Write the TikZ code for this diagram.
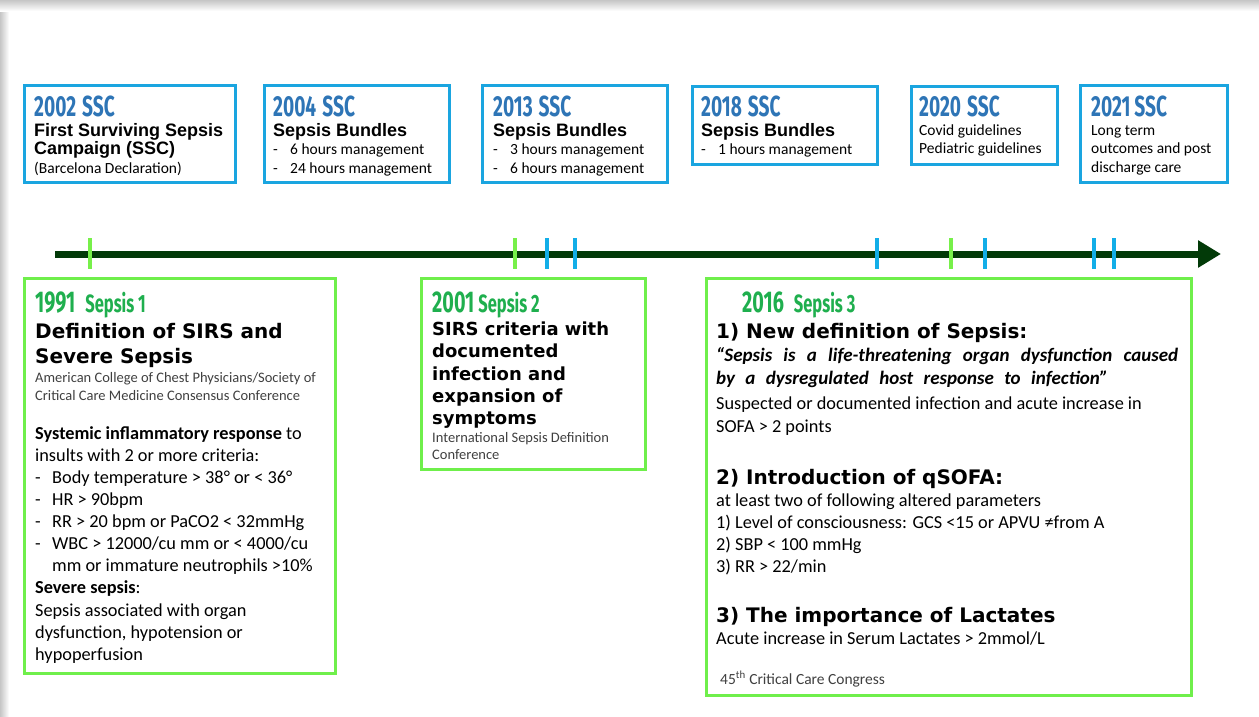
\documentclass[tikz,border=0pt]{standalone}
\usepackage{fontspec}
\setmainfont{Carlito}
\newfontfamily\armfont{Liberation Sans}
\newfontfamily\heavyfont{DejaVu Sans}
\newfontfamily\condfont[FakeStretch=0.66]{Fira Sans}
\usetikzlibrary{arrows.meta}

\definecolor{sscblue}{HTML}{1AA5E0}
\definecolor{sscyearblue}{HTML}{2E75B6}
\definecolor{sepsisgreen}{HTML}{6FEF4B}
\definecolor{sepsisyear}{HTML}{1FAF4E}
\definecolor{timelinegreen}{HTML}{023A08}
\definecolor{tickgreen}{HTML}{77F04A}
\definecolor{tickblue}{HTML}{12AEE8}

\newcommand\sscyear{\color{sscyearblue}\condfont\bfseries\fontsize{29}{29}\selectfont}
\newcommand\sschead{\armfont\bfseries\fontsize{18}{18}\selectfont}
\newcommand\ssctext{\fontsize{15.5}{15.5}\selectfont}
\newcommand\sepyear{\color{sepsisyear}\condfont\bfseries\fontsize{30}{30}\selectfont}
\newcommand\seplabel{\color{sepsisyear}\condfont\fontsize{25}{25}\selectfont}
\newcommand\bighead{\heavyfont\bfseries\fontsize{20}{20}\selectfont}
\newcommand\midhead{\heavyfont\bfseries\fontsize{18}{18}\selectfont}
\newcommand\smalltext{\color{black!75}\fontsize{14.5}{14.5}\selectfont}
\newcommand\bodyA{\fontsize{18.3}{18.3}\selectfont}
\newcommand\bodyC{\fontsize{18.3}{18.3}\selectfont}
\newcommand\quotetext{\bfseries\itshape\fontsize{19}{19}\selectfont}
\newcommand\dashitem[1]{\makebox[17pt][l]{-}#1}

\tikzset{
    sscbox/.style={draw=sscblue, line width=3pt, inner sep=0pt, fill=white},
    sepsisbox/.style={draw=sepsisgreen, line width=3pt, inner sep=0pt, fill=white},
    txt/.style={anchor=base west, inner sep=0pt},
}

\begin{document}
\begin{tikzpicture}[x=1pt, y=-1pt]
    \useasboundingbox (0,0) rectangle (1259,716);
    \fill[white] (0,0) rectangle (1259,716);
    \shade[left color=gray!45, right color=white] (0,0) rectangle (9,716);
    \shade[top color=gray!45, bottom color=white] (0,0) rectangle (1259,11);

    % SSC boxes
    \node[sscbox, minimum width=211, minimum height=97] (b2002) at (130,134) {};
    \node[txt] (y2002) at (34,116) {\sscyear 2002\hspace{6pt}SSC};
    \node[txt] (h2002a) at (34,136) {\sschead First Surviving Sepsis};
    \node[txt] (h2002b) at (34,154) {\sschead Campaign (SSC)};
    \node[txt] (s2002) at (34,173) {\ssctext (Barcelona Declaration)};

    \node[sscbox, minimum width=185, minimum height=97] (b2004) at (357,134) {};
    \node[txt] (y2004) at (273,116) {\sscyear 2004\hspace{6pt}SSC};
    \node[txt] (h2004) at (273,136) {\sschead Sepsis Bundles};
    \node[txt] (s2004a) at (273,154) {\ssctext\dashitem{6 hours management}};
    \node[txt] (s2004b) at (273,173) {\ssctext\dashitem{24 hours management}};

    \node[sscbox, minimum width=185, minimum height=97] (b2013) at (575,134) {};
    \node[txt] (y2013) at (493,116) {\sscyear 2013\hspace{6pt}SSC};
    \node[txt] (h2013) at (493,136) {\sschead Sepsis Bundles};
    \node[txt] (s2013a) at (493,154) {\ssctext\dashitem{3 hours management}};
    \node[txt] (s2013b) at (493,173) {\ssctext\dashitem{6 hours management}};

    \node[sscbox, minimum width=185, minimum height=78] (b2018) at (785,125.5) {};
    \node[txt] (y2018) at (701,116) {\sscyear 2018\hspace{6pt}SSC};
    \node[txt] (h2018) at (701,136) {\sschead Sepsis Bundles};
    \node[txt] (s2018) at (701,154) {\ssctext\dashitem{1 hours management}};

    \node[sscbox, minimum width=146, minimum height=78] (b2020) at (984.5,125.5) {};
    \node[txt] (y2020) at (919,116) {\sscyear 2020\hspace{6pt}SSC};
    \node[txt] (s2020a) at (919,135) {\ssctext Covid guidelines};
    \node[txt] (s2020b) at (919,153) {\ssctext Pediatric guidelines};

    \node[sscbox, minimum width=147, minimum height=97] (b2021) at (1154,134) {};
    \node[txt] (y2021) at (1091,116) {\sscyear 2021\hspace{4pt}SSC};
    \node[txt] (s2021a) at (1091,135) {\ssctext Long term};
    \node[txt] (s2021b) at (1091,153) {\ssctext outcomes and post};
    \node[txt] (s2021c) at (1091,172) {\ssctext discharge care};

    % timeline
    \coordinate (tlstart) at (55,254);
    \coordinate (tlend) at (1221,254);
    \draw[timelinegreen, line width=7pt, -{Triangle[length=23pt, width=26pt]}] (tlstart) -- (tlend);
    \foreach \x/\c in {90/tickgreen, 515/tickgreen, 547/tickblue, 575/tickblue, 877/tickblue,
                       951/tickgreen, 985/tickblue, 1094/tickblue, 1114/tickblue}
        \draw[\c, line width=3.5pt] (\x,238) -- (\x,269);

    % Sepsis 1
    \node[sepsisbox, minimum width=311, minimum height=395] (b1991) at (180,476) {};
    \node[txt] (y1991) at (35,312) {\sepyear 1991\hspace{10pt}\seplabel Sepsis 1};
    \node[txt] (h1991a) at (35,338) {\bighead Definition of SIRS and};
    \node[txt] (h1991b) at (35,363) {\bighead Severe Sepsis};
    \node[txt] (s1991a) at (35,382) {\smalltext American College of Chest Physicians/Society of};
    \node[txt] (s1991b) at (35,400) {\smalltext Critical Care Medicine Consensus Conference};
    \node[txt] (t1991a) at (35,439) {\bodyA\textbf{Systemic inflammatory response} to};
    \node[txt] (t1991b) at (35,461) {\bodyA insults with 2 or more criteria:};
    \node[txt] (t1991c) at (35,483) {\bodyA\dashitem{Body temperature > 38° or < 36°}};
    \node[txt] (t1991d) at (35,505) {\bodyA\dashitem{HR > 90bpm}};
    \node[txt] (t1991e) at (35,527) {\bodyA\dashitem{RR > 20 bpm or PaCO2 < 32mmHg}};
    \node[txt] (t1991f) at (35,549) {\bodyA\dashitem{WBC > 12000/cu mm or < 4000/cu}};
    \node[txt] (t1991g) at (52,571) {\bodyA mm or immature neutrophils >10\%};
    \node[txt] (t1991h) at (35,593) {\bodyA\textbf{Severe sepsis}:};
    \node[txt] (t1991i) at (35,616) {\bodyA Sepsis associated with organ};
    \node[txt] (t1991j) at (35,638) {\bodyA dysfunction, hypotension or};
    \node[txt] (t1991k) at (35,660) {\bodyA hypoperfusion};

    % Sepsis 2
    \node[sepsisbox, minimum width=224, minimum height=191] (b2001) at (533.5,374) {};
    \node[txt] (y2001) at (432,312) {\sepyear 2001\hspace{4pt}\seplabel Sepsis 2};
    \node[txt] (h2001a) at (432,335) {\midhead SIRS criteria with};
    \node[txt] (h2001b) at (432,357) {\midhead documented};
    \node[txt] (h2001c) at (432,380) {\midhead infection and};
    \node[txt] (h2001d) at (432,402) {\midhead expansion of};
    \node[txt] (h2001e) at (432,424) {\midhead symptoms};
    \node[txt] (s2001a) at (432,442) {\smalltext International Sepsis Definition};
    \node[txt] (s2001b) at (432,459) {\smalltext Conference};

    % Sepsis 3
    \node[sepsisbox, minimum width=485, minimum height=417] (b2016) at (949,487) {};
    \node[txt] (y2016) at (742,312) {\sepyear 2016\hspace{10pt}\seplabel Sepsis 3};
    \node[txt] (h2016a) at (716,338) {\bighead 1) New definition of Sepsis:};
    \node[txt] (q2016a) at (716,361) {\quotetext\makebox[462pt][s]{“Sepsis is a life-threatening organ dysfunction caused}};
    \node[txt] (q2016b) at (716,384) {\quotetext\makebox[392pt][s]{by a dysregulated host response to infection”}};
    \node[txt] (t2016a) at (716,409) {\bodyC Suspected or documented infection and acute increase in};
    \node[txt] (t2016b) at (716,432) {\bodyC SOFA > 2 points};
    \node[txt] (h2016b) at (716,484) {\bighead 2) Introduction of qSOFA:};
    \node[txt] (t2016c) at (716,506) {\bodyC at least two of following altered parameters};
    \node[txt] (t2016d) at (716,528) {\bodyC 1) Level of consciousness: GCS <15 or APVU ≠from A};
    \node[txt] (t2016e) at (716,550) {\bodyC 2) SBP < 100 mmHg};
    \node[txt] (t2016f) at (716,572) {\bodyC 3) RR > 22/min};
    \node[txt] (h2016c) at (716,622) {\bighead 3) The importance of Lactates};
    \node[txt] (t2016g) at (716,644) {\bodyC Acute increase in Serum Lactates > 2mmol/L};
    \node[txt] (s2016) at (720,684) {\smalltext\fontsize{15.5}{15.5}\selectfont 45\textsuperscript{th} Critical Care Congress};
\end{tikzpicture}
\end{document}
